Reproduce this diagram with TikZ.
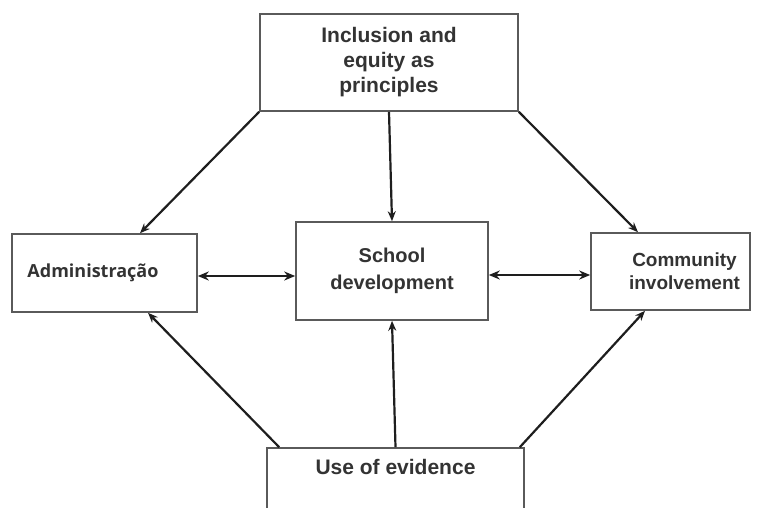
\documentclass[tikz,border=0pt]{standalone}
\usepackage{fontspec}
\setmainfont{Liberation Sans}
\newfontfamily\opensans{Open Sans}
\usetikzlibrary{arrows.meta,calc}
\definecolor{boxline}{HTML}{5A5A5A}
\definecolor{txt}{HTML}{333333}
\definecolor{arr}{HTML}{1E1E1E}
\begin{document}
\begin{tikzpicture}[x=1pt,y=-1pt,
  box/.style={draw=boxline, line width=1.6pt, fill=white, inner sep=0pt, align=center, text=txt, font=\bfseries},
  conn/.style={draw=arr, line width=2.2pt, -{Stealth[length=10pt,width=8pt]}},
  dconn/.style={draw=arr, line width=2.6pt, {Stealth[length=11pt,width=9pt]}-{Stealth[length=11pt,width=9pt]}}]
\useasboundingbox (0,0) rectangle (760,507);
\begin{scope}
\clip (0,0) rectangle (760,507);
\node[box, minimum width=258pt, minimum height=97pt, font=\bfseries\fontsize{21}{25}\selectfont] (top) at (389,62.5) {Inclusion and\\equity as\\principles};
\node[box, minimum width=185pt, minimum height=78pt, font=\opensans\bfseries\fontsize{18}{21}\selectfont] (left) at (104.5,273) {\hspace*{-23pt}Administração};
\node[box, minimum width=192pt, minimum height=98pt, font=\bfseries\fontsize{20}{27}\selectfont] (center) at (392,271) {School\\development};
\node[box, minimum width=159pt, minimum height=77pt, font=\bfseries\fontsize{19}{23}\selectfont] (right) at (670.5,271.5) {\hspace*{28pt}Community\\\hspace*{28pt}involvement};
\node[box, minimum width=257pt, minimum height=80pt] (ev) at (395.5,488) {};
\node[text=txt, font=\bfseries\fontsize{21}{24}\selectfont, inner sep=0pt] (evlabel) at (395.5,467) {Use of evidence};
\end{scope}
\coordinate (lr) at (left.east);
\coordinate (rl) at (right.west);
\draw[conn] (top.south west) -- ([xshift=35.5pt]left.north);
\draw[conn] (top.south) -- (center.north);
\draw[conn] (top.south east) -- ([xshift=-32.5pt]right.north);
\draw[conn] ([xshift=13pt]ev.north west) -- ([xshift=43.5pt]left.south);
\draw[conn] (ev.north) -- (center.south);
\draw[conn] ([xshift=-5pt]ev.north east) -- ([xshift=-25.5pt]right.south);
\draw[dconn] ([yshift=-3pt]lr) -- ([yshift=-3pt]lr -| center.west);
\draw[dconn] ([yshift=-3.5pt]rl -| center.east) -- ([yshift=-3.5pt]rl);
\end{tikzpicture}
\end{document}
